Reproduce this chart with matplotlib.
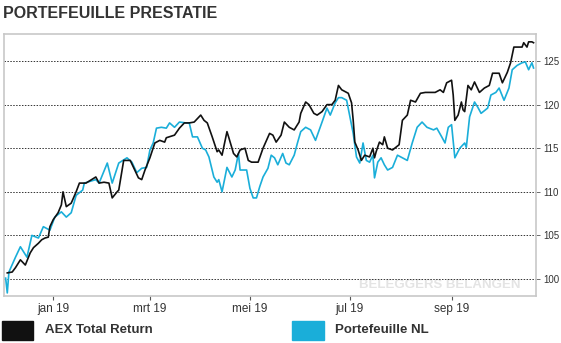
import matplotlib
matplotlib.use("Agg")
import matplotlib.pyplot as plt
from matplotlib.patches import Rectangle
import pandas as pd

plt.rcParams['font.family'] = ['Liberation Sans Narrow', 'Liberation Sans', 'DejaVu Sans']

# AEX Total Return (index, start = 100)
aex_dates = [
    "2018-12-04", "2018-12-07", "2018-12-09", "2018-12-12", "2018-12-15", "2018-12-18",
    "2018-12-20", "2018-12-23", "2018-12-25", "2018-12-27", "2018-12-29", "2018-12-30",
    "2019-01-01", "2019-01-04", "2019-01-06", "2019-01-07", "2019-01-09", "2019-01-12",
    "2019-01-15", "2019-01-17", "2019-01-21", "2019-01-27", "2019-01-29", "2019-02-01",
    "2019-02-04", "2019-02-06", "2019-02-09", "2019-02-10", "2019-02-13", "2019-02-17",
    "2019-02-19", "2019-02-22", "2019-02-24", "2019-02-26", "2019-03-01", "2019-03-04",
    "2019-03-07", "2019-03-10", "2019-03-11", "2019-03-16", "2019-03-19", "2019-03-22",
    "2019-03-25", "2019-03-28", "2019-04-01", "2019-04-03", "2019-04-05", "2019-04-08",
    "2019-04-11", "2019-04-12", "2019-04-14", "2019-04-17", "2019-04-18", "2019-04-21",
    "2019-04-23", "2019-04-25", "2019-04-28", "2019-04-30", "2019-05-02", "2019-05-06",
    "2019-05-09", "2019-05-13", "2019-05-15", "2019-05-17", "2019-05-20", "2019-05-22",
    "2019-05-25", "2019-05-28", "2019-05-31", "2019-06-01", "2019-06-04", "2019-06-06",
    "2019-06-09", "2019-06-11", "2019-06-14", "2019-06-17", "2019-06-20", "2019-06-22",
    "2019-06-24", "2019-06-26", "2019-06-30", "2019-07-02", "2019-07-03", "2019-07-04",
    "2019-07-06", "2019-07-08", "2019-07-10", "2019-07-13", "2019-07-15", "2019-07-16",
    "2019-07-17", "2019-07-19", "2019-07-21", "2019-07-22", "2019-07-24", "2019-07-27",
    "2019-07-31", "2019-08-02", "2019-08-05", "2019-08-07", "2019-08-10", "2019-08-13",
    "2019-08-16", "2019-08-22", "2019-08-25", "2019-08-27", "2019-08-29", "2019-09-01",
    "2019-09-02", "2019-09-03", "2019-09-05", "2019-09-07", "2019-09-08", "2019-09-09",
    "2019-09-11", "2019-09-13", "2019-09-15", "2019-09-18", "2019-09-21", "2019-09-24",
    "2019-09-26", "2019-09-30", "2019-10-02", "2019-10-05", "2019-10-07", "2019-10-09",
    "2019-10-12", "2019-10-14", "2019-10-15", "2019-10-17", "2019-10-18", "2019-10-20",
    "2019-10-21",
]
aex_values = [
    100.7, 100.8, 101.3, 102.2, 101.6, 103.0,
    103.6, 104.1, 104.5, 104.7, 104.8, 106.0,
    106.8, 107.6, 108.5, 110.0, 108.3, 108.7,
    110.0, 111.0, 111.0, 111.7, 111.0, 111.1,
    111.0, 109.3, 110.0, 110.2, 113.6, 113.6,
    112.8, 111.6, 111.4, 112.5, 113.9, 115.6,
    115.9, 115.7, 116.2, 116.5, 117.3, 117.9,
    117.9, 118.0, 118.8, 118.2, 117.9, 116.3,
    114.6, 114.8, 114.2, 116.9, 116.3, 114.4,
    114.0, 114.8, 115.0, 113.6, 113.4, 113.4,
    115.0, 116.7, 116.5, 115.7, 116.5, 118.0,
    117.4, 117.1, 118.0, 119.0, 120.3, 120.0,
    119.0, 118.8, 119.2, 120.0, 120.0, 120.5,
    122.2, 121.7, 121.3, 120.2, 118.2, 115.7,
    114.8, 113.6, 114.2, 114.0, 115.0, 113.9,
    114.6, 115.7, 115.4, 116.3, 115.0, 114.8,
    115.4, 118.2, 118.8, 120.5, 120.3, 121.3,
    121.4, 121.4, 121.7, 121.4, 122.5, 122.8,
    121.1, 118.2, 118.8, 120.3, 119.4, 119.2,
    122.2, 121.7, 122.6, 121.4, 121.9, 122.2,
    123.6, 123.6, 122.5, 123.7, 124.8, 126.6,
    126.6, 126.6, 127.1, 126.6, 127.2, 127.2,
    127.1,
]

# Portefeuille NL
nl_dates = [
    "2018-12-03", "2018-12-04", "2018-12-05", "2018-12-09", "2018-12-12", "2018-12-16",
    "2018-12-19", "2018-12-23", "2018-12-26", "2018-12-30", "2019-01-02", "2019-01-06",
    "2019-01-09", "2019-01-12", "2019-01-15", "2019-01-19", "2019-01-20", "2019-01-27",
    "2019-01-29", "2019-02-03", "2019-02-06", "2019-02-10", "2019-02-15", "2019-02-18",
    "2019-02-21", "2019-02-24", "2019-02-27", "2019-03-01", "2019-03-03", "2019-03-05",
    "2019-03-08", "2019-03-11", "2019-03-13", "2019-03-16", "2019-03-19", "2019-03-23",
    "2019-03-25", "2019-03-27", "2019-03-30", "2019-04-02", "2019-04-04", "2019-04-06",
    "2019-04-09", "2019-04-11", "2019-04-12", "2019-04-14", "2019-04-17", "2019-04-20",
    "2019-04-22", "2019-04-24", "2019-04-25", "2019-04-29", "2019-05-01", "2019-05-03",
    "2019-05-05", "2019-05-07", "2019-05-09", "2019-05-12", "2019-05-14", "2019-05-16",
    "2019-05-18", "2019-05-21", "2019-05-23", "2019-05-25", "2019-05-28", "2019-05-30",
    "2019-06-01", "2019-06-04", "2019-06-07", "2019-06-10", "2019-06-14", "2019-06-17",
    "2019-06-19", "2019-06-22", "2019-06-24", "2019-06-26", "2019-06-29", "2019-07-01",
    "2019-07-03", "2019-07-05", "2019-07-07", "2019-07-09", "2019-07-11", "2019-07-13",
    "2019-07-15", "2019-07-16", "2019-07-18", "2019-07-20", "2019-07-22", "2019-07-24",
    "2019-07-27", "2019-07-30", "2019-08-02", "2019-08-05", "2019-08-08", "2019-08-11",
    "2019-08-14", "2019-08-17", "2019-08-21", "2019-08-23", "2019-08-26", "2019-08-28",
    "2019-08-30", "2019-09-01", "2019-09-03", "2019-09-06", "2019-09-09", "2019-09-10",
    "2019-09-12", "2019-09-15", "2019-09-17", "2019-09-19", "2019-09-23", "2019-09-25",
    "2019-09-28", "2019-09-30", "2019-10-03", "2019-10-06", "2019-10-08", "2019-10-11",
    "2019-10-14", "2019-10-16", "2019-10-18", "2019-10-20", "2019-10-21",
]
nl_values = [
    100.1, 98.4, 100.8, 102.5, 103.7, 102.5,
    105.0, 104.7, 106.0, 105.6, 107.1, 107.7,
    107.1, 107.6, 109.6, 110.2, 111.0, 111.4,
    111.0, 113.3, 111.0, 113.3, 113.9, 113.4,
    112.2, 112.7, 112.8, 114.8, 115.6, 117.3,
    117.4, 117.3, 117.9, 117.4, 118.0, 117.9,
    117.9, 116.3, 116.3, 115.0, 114.8, 114.0,
    111.7, 111.1, 111.4, 110.0, 112.8, 111.7,
    112.5, 114.4, 112.5, 112.5, 110.4, 109.3,
    109.3, 110.6, 111.7, 112.7, 114.2, 113.9,
    113.1, 114.4, 113.3, 113.1, 114.2, 115.6,
    116.9, 117.4, 117.1, 115.9, 118.0, 119.6,
    118.8, 120.2, 120.8, 120.8, 120.5, 118.6,
    116.7, 114.0, 113.3, 115.6, 113.6, 113.4,
    114.2, 111.6, 113.4, 113.9, 113.1, 112.5,
    112.8, 114.2, 113.9, 113.6, 115.6, 117.4,
    118.0, 117.4, 117.1, 117.3, 116.3, 115.6,
    117.4, 117.7, 113.9, 115.0, 115.6, 115.1,
    118.6, 120.3, 119.7, 119.0, 119.6, 121.1,
    121.4, 121.9, 120.5, 121.9, 124.0, 124.5,
    124.8, 124.9, 124.0, 124.8, 124.2,
]

y_ticks = [100, 105, 110, 115, 120, 125]
x_ticks = ["2019-01-01", "2019-03-01", "2019-05-01", "2019-07-01", "2019-09-01"]
x_labels = ["jan 19", "mrt 19", "mei 19", "jul 19", "sep 19"]

black = "#111111"
blue = "#1aaed9"
text_col = "#333333"

fig = plt.figure(figsize=(5.61, 3.43), dpi=100)
ax = fig.add_axes([4 / 561, 1 - 296 / 343, 532 / 561, 262 / 343])

ax.plot(pd.to_datetime(nl_dates), nl_values, color=blue, lw=1.2, zorder=3)
ax.plot(pd.to_datetime(aex_dates), aex_values, color=black, lw=1.2, zorder=4)

ax.set_xlim(pd.Timestamp("2018-12-02"), pd.Timestamp("2019-10-22 12:00"))
ax.set_ylim(98.05, 128.1)

ax.set_yticks(y_ticks)
ax.yaxis.tick_right()
ax.set_xticks(pd.to_datetime(x_ticks))
ax.set_xticklabels(x_labels)
ax.tick_params(axis="y", length=3, width=0.6, color="#555555", labelsize=7,
               labelcolor=text_col, pad=2)
ax.tick_params(axis="x", length=3, width=0.8, color="#555555", labelsize=8.5,
               labelcolor=text_col, pad=2)
ax.grid(axis="y", linestyle=(0, (1.5, 1.5)), color="#333333", lw=0.7)
ax.grid(axis="x", visible=False)
for s in ax.spines.values():
    s.set_color("#c8c8c8")
    s.set_linewidth(1.2)

ax.text(0.97, 0.02, "BELEGGERS BELANGEN", transform=ax.transAxes, ha="right",
        va="bottom", fontsize=9.5, fontweight="bold", color="#e4e4e4", zorder=1)

fig.text(3 / 561, 1 - 13 / 343, "PORTEFEUILLE PRESTATIE", fontsize=11.5,
         fontweight="bold", color=text_col, va="center", ha="left")

# legend swatches
fig.patches.append(Rectangle((2 / 561, 1 - 340 / 343), 31 / 561, 19 / 343,
                             transform=fig.transFigure, color=black))
fig.text(45 / 561, 1 - 330 / 343, "AEX Total Return", fontsize=9.5,
         fontweight="bold", color=text_col, va="center")
fig.patches.append(Rectangle((292 / 561, 1 - 340 / 343), 32 / 561, 19 / 343,
                             transform=fig.transFigure, color=blue))
fig.text(335 / 561, 1 - 330 / 343, "Portefeuille NL", fontsize=9.5,
         fontweight="bold", color=text_col, va="center")

fig.savefig("out.png", dpi=100)
